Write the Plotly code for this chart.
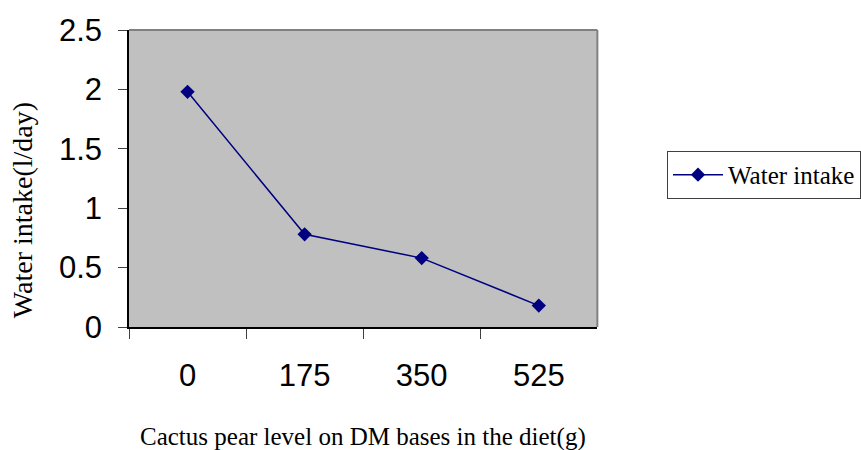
import plotly.graph_objects as go

categories = ["0", "175", "350", "525"]
water_intake = [1.98, 0.78, 0.58, 0.18]
y_ticks = [0, 0.5, 1, 1.5, 2, 2.5]
y_ticklabels = ["0", "0.5", "1", "1.5", "2", "2.5"]
x_title = "Cactus pear level on DM bases in the diet(g)"
y_title = "Water intake(l/day)"

W = 861 - 129  # paper width with r=0
plot_w = 469
dom = plot_w / W

fig = go.Figure()
fig.add_trace(go.Scatter(
    x=categories, y=water_intake, mode="lines+markers", name="Water intake",
    line=dict(color="#000080", width=1.5),
    marker=dict(symbol="diamond", size=11, color="#000080"),
))

fig.update_layout(
    width=861, height=450,
    margin=dict(l=129, r=0, t=30, b=123),
    paper_bgcolor="white", plot_bgcolor="#C0C0C0",
    showlegend=True,
    legend=dict(x=(668 - 129) / W, y=0.512, xanchor="left", yanchor="middle",
                bordercolor="#404040", borderwidth=1, bgcolor="white",
                itemwidth=50,
                font=dict(family="Liberation Serif", size=25, color="black")),
    xaxis=dict(type="category", range=[-0.5, 3.5], tickson="boundaries", domain=[0, dom],
               ticks="outside", ticklen=10, tickcolor="#404040",
               showline=True, linecolor="black", linewidth=1.5, automargin=False,
               showgrid=False, zeroline=False, ticklabelstandoff=20,
               tickfont=dict(family="Liberation Sans", size=31, color="black")),
    yaxis=dict(range=[0, 2.5], tickvals=y_ticks, ticktext=y_ticklabels,
               ticks="outside", ticklen=9, tickcolor="#404040",
               showline=True, linecolor="black", linewidth=1.5, automargin=False,
               showgrid=False, zeroline=False, ticklabelstandoff=10,
               tickfont=dict(family="Liberation Sans", size=31, color="black")),
)
fig.add_annotation(text=x_title, xref="x domain", yref="paper", x=0.5, y=-0.37,
                   xanchor="center", yanchor="middle", showarrow=False,
                   font=dict(family="Liberation Serif", size=25, color="black"))
fig.add_annotation(text=y_title, xref="x domain", yref="paper", x=-0.226, y=0.394,
                   xanchor="center", yanchor="middle", showarrow=False, textangle=-90,
                   font=dict(family="Liberation Serif", size=28, color="black"))
fig.add_shape(type="line", xref="x domain", yref="y domain", x0=0, x1=1, y0=1, y1=1,
              line=dict(color="#808080", width=2))
fig.add_shape(type="line", xref="x domain", yref="y domain", x0=1, x1=1, y0=0, y1=1,
              line=dict(color="#808080", width=2))

fig.write_html("out.html")
